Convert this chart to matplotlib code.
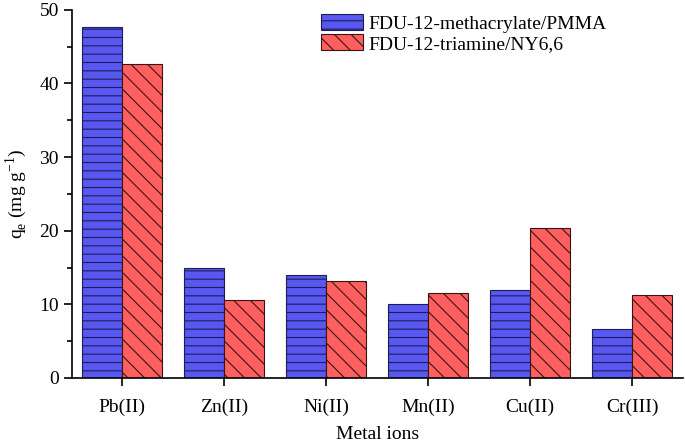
import numpy as np
import matplotlib.pyplot as plt

plt.rcParams['font.family'] = ['Liberation Serif', 'DejaVu Serif']
plt.rcParams['mathtext.fontset'] = 'custom'
plt.rcParams['mathtext.rm'] = 'Liberation Serif'
plt.rcParams['hatch.linewidth'] = 0.8

# valores
metals = ["Pb(II)", "Zn(II)", "Ni(II)", "Mn(II)", "Cu(II)", "Cr(III)"]
pmma = [47.6, 14.9, 14.0, 10.1, 12.0, 6.7]
ny66 = [42.7, 10.6, 13.2, 11.5, 20.4, 11.3]
labels = ["FDU-12-methacrylate/PMMA", "FDU-12-triamine/NY6,6"]

fig = plt.figure(figsize=(6.85, 4.46), dpi=100)
ax = fig.add_axes([0.1051, 0.1525, 0.892, 0.8255])

x = np.arange(len(metals))
w = 0.395
ax.bar(x - w / 2, pmma, w, color='#5858f0', edgecolor='#1c1c5a', linewidth=0.8,
       hatch='--', label=labels[0])
ax.bar(x + w / 2, ny66, w, color='#ff5f5f', edgecolor='#3a1414', linewidth=0.8,
       hatch='\\\\', label=labels[1])

ax.set_xlim(-0.49, 5.50)
ax.set_ylim(0, 50)
ax.set_xticks(x)
ax.set_xticklabels(metals)
ax.set_yticks(np.arange(0, 51, 10))
ax.set_yticks(np.arange(0, 51, 5), minor=True)
ax.tick_params(axis='both', labelsize=14, direction='out', length=6, width=1.2)
ax.tick_params(axis='y', which='minor', length=3.5, width=1.2)
ax.tick_params(axis='x', pad=9)
ax.spines['top'].set_visible(False)
ax.spines['right'].set_visible(False)
ax.spines['left'].set_linewidth(1.2)
ax.spines['bottom'].set_linewidth(1.2)

ax.set_xlabel("Metal ions", fontsize=14, labelpad=7)
ax.set_ylabel(r"q$_\mathregular{e}$ (mg g$^\mathregular{-1}$)", fontsize=14, labelpad=7)

ax.legend(loc='upper left', bbox_to_anchor=(0.468, 0.968), bbox_transform=fig.transFigure,
          frameon=False, fontsize=14, handlelength=2.2, handleheight=0.9,
          labelspacing=0.05, handletextpad=0.25, borderpad=0, borderaxespad=0)

fig.savefig("out.png", dpi=100)
